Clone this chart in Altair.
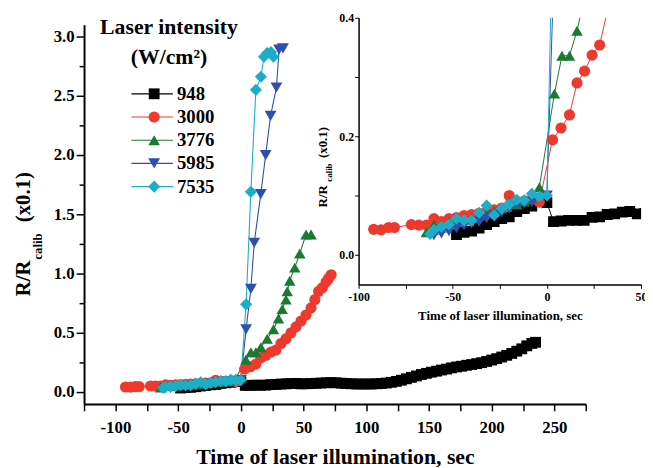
import altair as alt
import pandas as pd

FONT = "Liberation Serif"

series = ["948", "3000", "3776", "5985", "7535"]
colors = ["#000000", "#EE3A2E", "#1A7A30", "#2F4EAE", "#1CAEC8"]
shapes = ["square", "circle", "triangle-up", "triangle-down", "diamond"]

t_948 = [-48, -44, -40, -36, -32, -28, -24, -20, -16, -12, -8, 0,
         3.5, 7.5, 11.5, 15.7, 19.8, 24, 28, 32, 36, 40, 44, 48,
         52, 56, 60, 64, 68, 72, 76, 80, 84, 88, 92, 96, 100, 104, 108, 112, 116, 120,
         124, 128, 132, 136, 140, 144, 148, 152, 156, 160, 164, 168, 172, 176, 180, 184,
         188, 192, 196, 200, 204, 208, 212, 216, 220, 224, 228, 232, 235]
v_948 = [0.034, 0.038, 0.040, 0.045, 0.051, 0.056, 0.061, 0.064, 0.073, 0.078, 0.082, 0.088,
         0.056, 0.057, 0.058, 0.058, 0.058, 0.063, 0.064, 0.068, 0.069, 0.072, 0.073, 0.069,
         0.070, 0.072, 0.074, 0.076, 0.078, 0.080, 0.078, 0.075, 0.072, 0.070, 0.068, 0.068,
         0.068, 0.068, 0.070, 0.072, 0.076, 0.082, 0.090, 0.100, 0.112, 0.124, 0.136, 0.148,
         0.158, 0.168, 0.176, 0.186, 0.194, 0.204, 0.212, 0.218, 0.226, 0.232, 0.240, 0.248,
         0.258, 0.270, 0.282, 0.296, 0.310, 0.326, 0.345, 0.365, 0.390, 0.410, 0.420]

t_3000 = [-92, -88, -84, -81, -72, -68, -64, -60, -56, -52, -48, -44, -40, -36, -32, -28,
          -24, -20, -16, -12, -8, -4, 3, 7.5, 12, 16, 20, 24, 28,
          32, 36, 40, 44, 48, 52, 56, 59, 62, 65, 68, 70, 72]
v_3000 = [0.043, 0.042, 0.046, 0.046, 0.051, 0.050, 0.050, 0.061, 0.056, 0.061, 0.063, 0.066,
          0.068, 0.070, 0.073, 0.076, 0.079, 0.100, 0.090, 0.091, 0.094, 0.089,
          0.194, 0.214, 0.236, 0.290, 0.310, 0.337, 0.354,
          0.41, 0.45, 0.50, 0.55, 0.60, 0.65, 0.71, 0.78, 0.85, 0.88, 0.93, 0.96, 0.99]

t_3776 = [-64, -60, -56, -52, -48, -44, -40, -36, -32, -28, -24, -20, -16, -12, -8, -4,
          4, 8, 12, 16, 21, 26, 30, 33, 36, 37, 39, 43, 47, 52, 56]
v_3776 = [0.038, 0.051, 0.050, 0.055, 0.058, 0.060, 0.062, 0.066, 0.070, 0.073, 0.078, 0.090,
          0.085, 0.090, 0.095, 0.114, 0.272, 0.336, 0.336, 0.378,
          0.45, 0.53, 0.62, 0.70, 0.78, 0.85, 0.94, 1.05, 1.17, 1.33, 1.33]

t_5985 = [-60, -56, -52, -48, -44, -40, -36, -32, -28, -24, -20, -16, -12, -8, -4, 0,
          4.2, 8, 10.7, 15.9, 19.8, 23.7, 28.4, 30.5, 33.6]
v_5985 = [0.033, 0.036, 0.040, 0.045, 0.050, 0.053, 0.056, 0.062, 0.067, 0.072, 0.078, 0.084,
          0.087, 0.089, 0.095, 0.100, 0.53, 0.87, 1.26, 1.67, 2.00, 2.33, 2.57, 2.89, 2.90]

t_7535 = [-62, -60, -56, -52, -48, -44, -40, -36, -32, -28, -24, -20, -16, -12, -8, -4, 0,
          4.2, 8, 12, 16, 18.5, 21, 24, 26]
v_7535 = [0.035, 0.042, 0.047, 0.051, 0.061, 0.058, 0.058, 0.071, 0.083, 0.067, 0.078, 0.085,
          0.093, 0.092, 0.103, 0.098, 0.100, 0.74, 1.69, 2.55, 2.66, 2.83, 2.86, 2.87, 2.83]

main_sizes = [120, 150, 170, 170, 215]
inset_sizes = [50, 60, 65, 65, 85]
legend_sizes = [160, 180, 200, 200, 240]

rows = []
for name, ts, vs in zip(series, [t_948, t_3000, t_3776, t_5985, t_7535],
                        [v_948, v_3000, v_3776, v_5985, v_7535]):
    for t, v in zip(ts, vs):
        rows.append({"series": name, "t": t, "v": v})
df = pd.DataFrame(rows)

color_scale = alt.Scale(domain=series, range=colors)
shape_scale = alt.Scale(domain=series, range=shapes)

lab = dict(labelFont=FONT, labelFontWeight="bold", labelColor="black",
           labelFlush=False, labelOverlap=False, grid=False,
           domainColor="black", tickColor="black")

# ---------- main chart ----------
mx = alt.Scale(domain=[-125, 275], range=[0, 508], nice=False, zero=False)
my = alt.Scale(domain=[-0.1, 3.1], range=[391, 7], nice=False, zero=False)
mx_axis = alt.Axis(orient="bottom", values=list(range(-125, 276, 25)),
                   labelExpr="datum.value % 50 == 0 ? toString(datum.value) : ''",
                   labelFontSize=17, labelPadding=9, tickSize=7, tickWidth=1.5, domainWidth=2,
                   title="Time of laser illumination, sec", titleFont=FONT, titleFontSize=22,
                   titleFontWeight="bold", titleColor="black", titlePadding=11, **lab)
my_axis = alt.Axis(orient="left", values=[i * 0.25 for i in range(13)],
                   labelExpr="datum.value % 0.5 == 0 ? format(datum.value, '.1f') : ''",
                   labelFontSize=17, labelPadding=2,
                   tickSize={"condition": {"test": "datum.value % 0.5 == 0", "value": 8}, "value": 5},
                   tickWidth=1.5, domainWidth=2, title=None, **lab)

base_main = alt.Chart(df).encode(
    x=alt.X("t:Q", scale=mx, axis=mx_axis),
    y=alt.Y("v:Q", scale=my, axis=my_axis),
    color=alt.Color("series:N", scale=color_scale, legend=None),
)
main_lines = base_main.mark_line(strokeWidth=1.1)
main_pts = base_main.mark_point(filled=True, opacity=1).encode(
    shape=alt.Shape("series:N", scale=shape_scale, legend=None),
    size=alt.Size("series:N", scale=alt.Scale(domain=series, range=main_sizes), legend=None),
)
main = alt.layer(main_lines, main_pts)

# ---------- inset ----------
ix = alt.Scale(domain=[-100, 50], range=[278, 564], nice=False, zero=False)
iy = alt.Scale(domain=[-0.05, 0.4], range=[270, 0], nice=False, zero=False)
ix_axis = alt.Axis(orient="bottom", offset=-121, values=list(range(-100, 51, 25)),
                   labelExpr="datum.value % 50 == 0 ? toString(datum.value) : ''",
                   labelFontSize=12, labelPadding=3, tickSize=4, tickWidth=1, domainWidth=1.5,
                   title="Time of laser illumination, sec", titleFont=FONT, titleFontSize=13,
                   titleFontWeight="bold", titleColor="black", titlePadding=8, **lab)
iy_axis = alt.Axis(orient="left", offset=-278, values=[0.0, 0.1, 0.2, 0.3, 0.4],
                   labelExpr="indexof(['0.0','0.2','0.4'], format(datum.value, '.1f')) >= 0 ? format(datum.value, '.1f') : ''",
                   labelFontSize=12, labelPadding=1, tickSize=4, tickWidth=1, domainWidth=1.5,
                   title=None, **lab)

base_inset = alt.Chart(df).encode(
    x=alt.X("t:Q", scale=ix, axis=ix_axis),
    y=alt.Y("v:Q", scale=iy, axis=iy_axis),
    color=alt.Color("series:N", scale=color_scale, legend=None),
)
inset_lines = base_inset.mark_line(strokeWidth=1, clip=True)
inset_pts = base_inset.mark_point(filled=True, opacity=1, clip=True).encode(
    shape=alt.Shape("series:N", scale=shape_scale, legend=None),
    size=alt.Size("series:N", scale=alt.Scale(domain=series, range=inset_sizes), legend=None),
)
inset = alt.layer(inset_lines, inset_pts)

# ---------- legend ----------
leg_df = pd.DataFrame({"series": series})
ly = alt.Y("series:N", scale=alt.Scale(type="point", domain=series, range=[77, 171], padding=0), axis=None)
leg_base = alt.Chart(leg_df).encode(y=ly)
leg_rule = leg_base.mark_rule(strokeWidth=1.2).encode(
    x=alt.value(48), x2=alt.value(90),
    color=alt.Color("series:N", scale=color_scale, legend=None))
leg_pts = leg_base.mark_point(filled=True, opacity=1).encode(
    x=alt.value(71),
    color=alt.Color("series:N", scale=color_scale, legend=None),
    shape=alt.Shape("series:N", scale=shape_scale, legend=None),
    size=alt.Size("series:N", scale=alt.Scale(domain=series, range=legend_sizes), legend=None))
leg_txt = leg_base.mark_text(align="left", baseline="middle", font=FONT, fontWeight="bold",
                             fontSize=19, color="black").encode(x=alt.value(94), text="series:N")
legend = alt.layer(leg_rule, leg_pts, leg_txt)


def txt(s, x, y, size, angle=0, align="center"):
    kw = {} if angle == 0 else {"angle": angle}
    return alt.Chart(pd.DataFrame({"s": [s]})).mark_text(
        align=align, baseline="middle", font=FONT, fontWeight="bold", fontSize=size,
        color="black", **kw).encode(x=alt.value(x), y=alt.value(y), text="s:N")


texts = [
    txt("Laser intensity", 86, 9, 22),
    txt("(W/cm²)", 86, 40, 22),
    txt("R/R", -61, 282, 21, 270, "left"),
    txt("calib", -47, 245, 13, 270, "left"),
    txt("(x0.1)", -61, 207, 21, 270, "left"),
    txt("R/R", 242, 192, 13, 270, "left"),
    txt("calib", 248, 166, 9, 270, "left"),
    txt("(x0.1)", 242, 142, 13, 270, "left"),
]

chart = alt.layer(main, inset, legend, *texts).resolve_scale(
    x="independent", y="independent"
).properties(
    width=564, height=391,
    autosize=alt.AutoSizeParams(type="none"),
    padding={"left": 77, "top": 7, "right": 4, "bottom": 62},
    background="white",
).configure_view(stroke=None)

chart.save("out.html", embed_options={"renderer": "svg", "actions": False})
